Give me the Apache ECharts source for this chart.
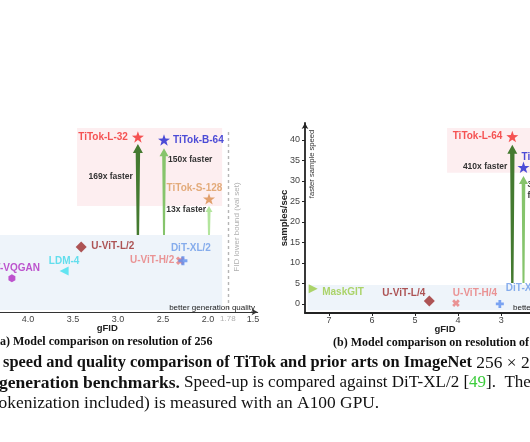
<!DOCTYPE html>
<html><head><meta charset="utf-8">
<script src="https://cdn.jsdelivr.net/npm/echarts@6/dist/echarts.min.js"></script>
<style>html,body{margin:0;padding:0;background:#fff}#c{width:530px;height:442px}</style>
</head><body><div id="c"></div><script>
// ---------- (a) resolution 256 ----------
const aModels = ['TiTok-L-32','TiTok-B-64','TiTok-S-128','U-ViT-L/2','U-ViT-H/2','DiT-XL/2','LDM-4','ViT-VQGAN'];
const aGfid   = [2.78, 2.49, 1.99, 3.41, 2.31, 2.28, 3.60, 4.18];
const aSpeed  = [101.6, 89.8, 7.8, 1.06, 0.6, 0.6, 0.39, 0.29];
const aTicks  = [4.0, 3.5, 3.0, 2.5, 2.0, 1.78, 1.5];
const aFidBound = 1.78;
const aBoundSpan = [0.081, 138];
const aArrowModels = ['TiTok-L-32','TiTok-B-64','TiTok-S-128'];
const aArrowFrom = 1.74;
const aArrowTo = [76, 64, 5.8];
const aSpeedup = ['169x faster','150x faster','13x faster'];
const aFastBand = [[3.456, 5.8],[1.844, 147.6]];
const aSlowBand = [[4.79, 0.0776],[1.844, 1.74]];
// ---------- (b) resolution 512 ----------
const bModels = ['TiTok-L-64','TiTok-B-64','MaskGIT','U-ViT-L/4','U-ViT-H/4','DiT-XL/2'];
const bGfid   = [2.74, 2.48, 7.37, 4.67, 4.05, 3.03];
const bSpeed  = [40.8, 33.3, 3.7, 0.73, 0.2, 0.0];
const bXTicks = [7, 6, 5, 4, 3, 2];
const bYTicks = [0, 5, 10, 15, 20, 25, 30, 35, 40];
const bArrowModels = ['TiTok-L-64','TiTok-B-64'];
const bArrowFrom = 5.1;
const bArrowTo = [38.8, 31.2];
const bSpeedup = ['410x faster','333x\nfaster'];
const bFastBand = [[4.256, 32.0],[1.9, 42.9]];
const bSlowBand = [[7.5, -1.5],[1.9, 4.6]];

const SANS = '"Liberation Sans", Arial, sans-serif';
const SERIF = '"Liberation Serif", "Times New Roman", serif';
const STAR = 'path://M0,-10L2.35,-3.24L9.51,-3.09L3.8,1.24L5.88,8.09L0,4L-5.88,8.09L-3.8,1.24L-9.51,-3.09L-2.35,-3.24Z';
const PLUS = 'path://M-1.1,-3.2H1.1V-1.1H3.2V1.1H1.1V3.2H-1.1V1.1H-3.2V-1.1H-1.1Z';
const HEX = 'path://M0,-1L0.866,-0.5L0.866,0.5L0,1L-0.866,0.5L-0.866,-0.5Z';

const STY = {
  'TiTok-L-32': {sym:STAR, size:12, c:'#f32b2b', lc:'#f32b2b', al:'right', off:[-10,0]},
  'TiTok-B-64': {sym:STAR, size:12, c:'#1f22cf', lc:'#1f22cf', al:'left', off:[9,0]},
  'TiTok-S-128':{sym:STAR, size:12, c:'#d98b4b', lc:'#dc9a5c', al:'center', off:[-14.5,-11]},
  'U-ViT-L/2':  {sym:'diamond', size:11, c:'#9c2b2b', lc:'#9c2b2b', al:'left', off:[10,-1]},
  'U-ViT-H/2':  {sym:PLUS, size:9, rot:45, c:'#e97a7a', lc:'#e97a7a', al:'right', off:[-6,0]},
  'DiT-XL/2':   {sym:PLUS, size:9, c:'#5c8ef0', lc:'#6a9ae8', al:'center', off:[8,-12]},
  'LDM-4':      {sym:'triangle', size:9, rot:90, c:'#3fe0ef', lc:'#3fd8ea', al:'center', off:[0,-10]},
  'ViT-VQGAN':  {sym:HEX, size:8, c:'#b02bc2', lc:'#b02bc2', al:'right', off:[28,-10]},
};
const STYB = {
  'TiTok-L-64': {sym:STAR, size:12, c:'#f32b2b', lc:'#f32b2b', al:'right', off:[-10,0]},
  'TiTok-B-64': {sym:STAR, size:12, c:'#1f22cf', lc:'#1f22cf', al:'left', off:[-2,-10]},
  'MaskGIT':    {sym:'triangle', size:9, rot:-90, c:'#9acb45', lc:'#9acb45', al:'left', off:[9,3]},
  'U-ViT-L/4':  {sym:'diamond', size:11, c:'#9c2b2b', lc:'#9c2b2b', al:'right', off:[-4,-8]},
  'U-ViT-H/4':  {sym:PLUS, size:8, rot:45, c:'#e97a7a', lc:'#e97a7a', al:'center', off:[19,-10]},
  'DiT-XL/2':   {sym:PLUS, size:8, c:'#5c8ef0', lc:'#6a9ae8', al:'left', off:[6,-16]},
};
const ARROW_A = [
  {c:'#447a30', hl:9, hw:5, wb:1.2, wt:2.2, tx:-5, ty:33, al:'right'},
  {c:'#86c46c', hl:8, hw:4.5, wb:1.0, wt:1.8, tx:4, ty:12, al:'left'},
  {c:'#b3e59d', hl:6, hw:3.5, wb:1.0, wt:1.5, tx:-3, ty:4, al:'right'},
];
const ARROW_B = [
  {c:'#447a30', hl:9, hw:5, wb:1.2, wt:2.2, tx:-5, ty:22, al:'right'},
  {c:'#86c46c', hl:8, hw:4.5, wb:1.0, wt:1.8, tx:4, ty:14, al:'left'},
];

function pointSeries(idx, models, gf, sp, sty) {
  return models.map((m, i) => {
    const s = sty[m];
    return {
      type:'scatter', name:m, xAxisIndex:idx, yAxisIndex:idx, z:5, silent:true, clip:false,
      symbol:s.sym, symbolSize:s.size, symbolRotate:s.rot||0, symbolKeepAspect:true,
      itemStyle:{color:s.c},
      label:{show:true, position:'inside', align:s.al, verticalAlign:'middle', offset:s.off,
        formatter:m, color:s.lc, fontFamily:SANS, fontWeight:'bold', fontSize:10},
      data:[[gf[i], sp[i]]]
    };
  });
}
function arrowSeries(idx, models, gfList, gf, from, to, texts, sty) {
  return {
    type:'custom', xAxisIndex:idx, yAxisIndex:idx, z:2, silent:true, clip:false,
    data: models.map((m, i) => [gf[gfList.indexOf(m)], from, to[i], i]),
    renderItem(params, api) {
      const i = api.value(3), s = sty[i];
      const p0 = api.coord([api.value(0), api.value(1)]);
      const p1 = api.coord([api.value(0), api.value(2)]);
      const x = p0[0], yb = p0[1], yt = p1[1];
      return {type:'group', children:[
        {type:'polygon', shape:{points:[[x-s.wb,yb],[x-s.wt,yt+s.hl],[x-s.hw,yt+s.hl],[x,yt],[x+s.hw,yt+s.hl],[x+s.wt,yt+s.hl],[x+s.wb,yb]]},
          style:{fill:s.c}},
        {type:'text', x:x+s.tx, y:yt+s.ty, style:{text:texts[i], fill:'#333', font:'bold 8.5px ' + SANS,
          align:s.al, verticalAlign:'middle', lineHeight:10.5}}
      ]};
    }
  };
}
function bandSeries(idx, fast, slow, extra) {
  const s = {
    type:'scatter', xAxisIndex:idx, yAxisIndex:idx, data:[], silent:true, z:0,
    markArea:{silent:true, data:[
      [{coord:fast[0], itemStyle:{color:'#fdeef0'}}, {coord:fast[1]}],
      [{coord:slow[0], itemStyle:{color:'#eef4fa'}}, {coord:slow[1]}]
    ]}
  };
  if (extra) s.markLine = extra;
  return s;
}

const chart = echarts.init(document.getElementById('c'), null, {renderer:'canvas'});
const option = {
  animation:false,
  backgroundColor:'#fff',
  grid:[
    {left:-43, top:123, width:300.6, height:189, outerBoundsMode:'none', containLabel:false},
    {left:305, top:123, width:280, height:190, outerBoundsMode:'none', containLabel:false}
  ],
  xAxis:[
    {type:'value', gridIndex:0, inverse:true, min:1.45, max:4.79,
      name:'gFID', nameLocation:'middle', nameGap:11, nameMoveOverlap:false,
      nameTextStyle:{fontFamily:SANS, fontWeight:'bold', fontSize:9.5, color:'#222'},
      axisLine:{onZero:false, lineStyle:{color:'#333', width:1.2}, symbol:['none','arrow'], symbolSize:[5,6]},
      axisTick:{show:false}, splitLine:{show:false},
      axisLabel:{customValues:aTicks, margin:3, fontFamily:SANS, fontSize:9, color:'#444',
        formatter:v => Math.abs(v - aFidBound) < 1e-6 ? '{g|' + v.toFixed(2) + '}' : v.toFixed(1),
        rich:{g:{color:'#b0b0b0', fontSize:8, fontFamily:SANS}}}},
    {type:'value', gridIndex:1, inverse:true, min:1.05, max:7.56,
      name:'gFID', nameLocation:'middle', nameGap:11, nameMoveOverlap:false,
      nameTextStyle:{fontFamily:SANS, fontWeight:'bold', fontSize:9.5, color:'#222'},
      axisLine:{onZero:false, lineStyle:{color:'#222', width:1.8}},
      axisTick:{customValues:bXTicks, length:3, lineStyle:{color:'#222'}}, splitLine:{show:false},
      axisLabel:{customValues:bXTicks, margin:3, fontFamily:SANS, fontSize:9, color:'#444'}}
  ],
  yAxis:[
    {type:'log', gridIndex:0, min:0.0714, max:181.6, show:false, splitLine:{show:false}},
    {type:'value', gridIndex:1, min:-2.2, max:44.1,
      name:'samples/sec', nameLocation:'middle', nameGap:16, nameMoveOverlap:false,
      nameTextStyle:{fontFamily:SANS, fontWeight:'bold', fontSize:9.5, color:'#222'},
      axisLine:{show:true, onZero:false, lineStyle:{color:'#222', width:1.8}, symbol:['none','arrow'], symbolSize:[5,6]},
      axisTick:{show:true, customValues:bYTicks, length:3, lineStyle:{color:'#222'}}, splitLine:{show:false},
      axisLabel:{customValues:bYTicks, margin:5, fontFamily:SANS, fontSize:9, color:'#444'}}
  ],
  series:[
    bandSeries(0, aFastBand, aSlowBand, {silent:true, symbol:'none', label:{show:false},
      lineStyle:{color:'#b5b5b5', type:[3,3], width:1.4},
      data:[[{coord:[aFidBound, aBoundSpan[0]]},{coord:[aFidBound, aBoundSpan[1]]}]]}),
    bandSeries(1, bFastBand, bSlowBand),
    arrowSeries(0, aArrowModels, aModels, aGfid, aArrowFrom, aArrowTo, aSpeedup, ARROW_A),
    arrowSeries(1, bArrowModels, bModels, bGfid, bArrowFrom, bArrowTo, bSpeedup, ARROW_B),
    ...pointSeries(0, aModels, aGfid, aSpeed, STY),
    ...pointSeries(1, bModels, bGfid, bSpeed, STYB)
  ],
  graphic:[
    {type:'text', z:100, x:255, y:308, style:{text:'better generation quality', fill:'#222', font:'8px ' + SANS, align:'right', verticalAlign:'middle'}},
    {type:'text', z:100, x:513, y:308, style:{text:'better generation quality', fill:'#222', font:'8px ' + SANS, align:'left', verticalAlign:'middle'}},
    {type:'text', z:100, x:237, y:227, rotation:Math.PI/2, style:{text:'FID lower bound (val set)', fill:'#b0b0b0', font:'8px ' + SANS, align:'center', verticalAlign:'middle'}},
    {type:'text', z:100, x:312, y:164, rotation:Math.PI/2, style:{text:'faster sample speed', fill:'#333', font:'7.6px ' + SANS, align:'center', verticalAlign:'middle'}},
    {type:'text', z:100, x:-4, y:342, style:{text:'(a) Model comparison on resolution of 256', fill:'#111', font:'bold 12px ' + SERIF, align:'left', verticalAlign:'middle'}},
    {type:'text', z:100, x:333, y:343, style:{text:'(b) Model comparison on resolution of 512', fill:'#111', font:'bold 12px ' + SERIF, align:'left', verticalAlign:'middle'}},
    {type:'text', z:100, x:3, y:363, style:{text:'{b|speed and quality comparison of TiTok and prior arts on ImageNet}{n| 256 × 256 and 512 × 512}',
      verticalAlign:'middle', rich:{b:{font:'bold 16.4px ' + SERIF, fill:'#111'}, n:{font:'17.4px ' + SERIF, fill:'#111'}}}},
    {type:'text', z:100, x:-1, y:383, style:{text:'{b|generation benchmarks.}{n| Speed-up is compared against DiT-XL/2 [}{g|49}{n|].  The sampling speed}',
      verticalAlign:'middle', rich:{b:{font:'bold 17.5px ' + SERIF, fill:'#111'}, n:{font:'17px ' + SERIF, fill:'#111'}, g:{font:'17px ' + SERIF, fill:'#3ccc3c'}}}},
    {type:'text', z:100, x:-12, y:403, style:{text:'(tokenization included) is measured with an A100 GPU.', fill:'#111', font:'17.4px ' + SERIF, verticalAlign:'middle'}}
  ]
};
chart.setOption(option);
</script></body></html>
